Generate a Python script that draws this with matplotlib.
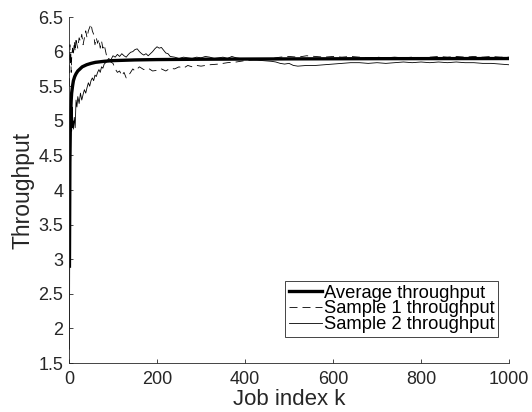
import matplotlib
matplotlib.use("Agg")
import matplotlib.pyplot as plt
from matplotlib.ticker import FuncFormatter

plt.rcParams['font.family'] = ['Liberation Sans', 'DejaVu Sans']

# average throughput over job index
avgK = [1, 2, 3, 4, 5, 6, 8, 10, 13, 16, 20, 25, 30, 40, 50, 60, 80, 100,
        150, 200, 300, 500, 700, 1000]
avgVal = [2.9, 4.4, 4.9, 5.15, 5.3, 5.4, 5.5, 5.58, 5.64, 5.68, 5.72, 5.75,
          5.78, 5.81, 5.83, 5.845, 5.86, 5.87, 5.88, 5.885, 5.89, 5.895,
          5.898, 5.9]

# sample 1 (dashed)
s1K = [1, 2, 3, 4, 5, 6, 8, 10, 12, 14, 16, 18, 20, 23, 26, 29, 32, 35, 38,
       41, 44, 47, 50, 53, 56, 59, 62, 65, 68, 71, 74, 77, 80, 85, 90, 95,
       100, 105, 110, 115, 120, 125, 130, 135, 140, 145, 150, 160, 170, 180,
       190, 200, 210, 220, 230, 240, 250, 260, 270, 280, 290, 300, 320, 340,
       360, 380, 400, 420, 440, 460, 480, 500, 520, 540, 560, 580, 600, 620,
       640, 660, 680, 700, 720, 740, 760, 780, 800, 820, 840, 860, 880, 900,
       920, 940, 960, 980, 1000]
s1Val = [5.5, 6.1, 5.8, 6.0, 5.7, 5.9, 6.05, 5.95, 6.15, 6.0, 6.2, 6.1, 6.05,
         6.2, 6.15, 6.25, 6.1, 6.2, 6.3, 6.2, 6.3, 6.35, 6.4, 6.3, 6.25, 6.1,
         6.2, 6.12, 6.18, 6.05, 6.15, 6.05, 6.1, 5.95, 5.88, 5.85, 5.83,
         5.75, 5.7, 5.72, 5.65, 5.7, 5.62, 5.65, 5.7, 5.75, 5.72, 5.78, 5.74,
         5.76, 5.72, 5.73, 5.75, 5.72, 5.76, 5.75, 5.78, 5.76, 5.8, 5.78,
         5.8, 5.79, 5.81, 5.82, 5.84, 5.85, 5.87, 5.88, 5.89, 5.9, 5.92,
         5.93, 5.92, 5.94, 5.93, 5.92, 5.93, 5.92, 5.93, 5.92, 5.91, 5.92,
         5.91, 5.92, 5.91, 5.92, 5.91, 5.92, 5.93, 5.92, 5.93, 5.92, 5.93,
         5.92, 5.93, 5.92, 5.92]

# sample 2 (solid thin)
s2K = [1, 2, 3, 4, 5, 6, 7, 8, 9, 10, 12, 14, 16, 18, 20, 23, 26, 29, 32,
       35, 38, 41, 44, 47, 50, 53, 56, 59, 62, 65, 68, 71, 74, 77, 80, 85,
       90, 95, 100, 105, 110, 115, 120, 125, 130, 135, 140, 145, 150, 155,
       160, 165, 170, 175, 180, 185, 190, 195, 200, 205, 210, 215, 220, 225,
       230, 240, 250, 260, 270, 280, 290, 300, 310, 320, 330, 340, 350, 360,
       370, 380, 390, 400, 420, 440, 460, 470, 480, 490, 500, 510, 520, 540,
       560, 580, 600, 620, 640, 660, 680, 700, 720, 740, 760, 780, 800, 820,
       840, 860, 880, 900, 920, 940, 960, 980, 1000]
s2Val = [1.7, 4.0, 5.3, 4.9, 5.1, 4.85, 5.2, 4.9, 5.0, 4.88, 5.05, 4.9, 5.3,
         5.2, 5.35, 5.25, 5.4, 5.3, 5.38, 5.45, 5.4, 5.48, 5.55, 5.5, 5.58,
         5.62, 5.58, 5.66, 5.64, 5.7, 5.74, 5.7, 5.78, 5.76, 5.82, 5.85,
         5.9, 5.88, 5.94, 5.92, 5.96, 5.93, 5.97, 5.94, 5.92, 5.96, 5.99,
         6.0, 6.03, 6.04, 6.0, 5.97, 5.95, 5.97, 5.94, 5.97, 6.0, 6.04, 6.07,
         6.05, 6.06, 6.02, 5.98, 5.97, 5.93, 5.92, 5.9, 5.92, 5.91, 5.9,
         5.92, 5.91, 5.93, 5.92, 5.9, 5.91, 5.92, 5.9, 5.93, 5.91, 5.9, 5.89,
         5.88, 5.87, 5.86, 5.85, 5.83, 5.82, 5.83, 5.8, 5.79, 5.8, 5.8, 5.81,
         5.82, 5.83, 5.84, 5.84, 5.83, 5.84, 5.83, 5.84, 5.85, 5.84, 5.85,
         5.84, 5.85, 5.84, 5.85, 5.84, 5.84, 5.83, 5.83, 5.82, 5.81]

fig = plt.figure(figsize=(5.32, 4.12), dpi=100)
ax = fig.add_axes([0.1297, 0.1189, 0.8271, 0.8398])

ax.plot(avgK, avgVal, color='black', linewidth=2.4, label='Average throughput')
ax.plot(s1K, s1Val, color='black', linewidth=0.6, linestyle=(0, (9.6, 6)),
        label='Sample 1 throughput')
ax.plot(s2K, s2Val, color='black', linewidth=0.6, label='Sample 2 throughput')

ax.set_xlim(0, 1000)
ax.set_ylim(1.5, 6.5)
ax.set_xticks([0, 200, 400, 600, 800, 1000])
ax.set_yticks([1.5, 2, 2.5, 3, 3.5, 4, 4.5, 5, 5.5, 6, 6.5])
ax.yaxis.set_major_formatter(FuncFormatter(lambda v, p: '%g' % v))
ax.tick_params(direction='in', length=3, width=0.6, labelsize=13,
               colors='#262626')
ax.tick_params(axis='x', pad=5.5)
ax.tick_params(axis='y', pad=4)
for s in ['top', 'right']:
    ax.spines[s].set_visible(False)
for s in ['left', 'bottom']:
    ax.spines[s].set_linewidth(0.6)
    ax.spines[s].set_color('#262626')

ax.set_xlabel('Job index k', fontsize=16, labelpad=1, color='#262626')
ax.set_ylabel('Throughput', fontsize=16.5, labelpad=3, color='#262626')

leg = ax.legend(loc='lower right', bbox_to_anchor=(0.975, 0.075),
                borderaxespad=0, fontsize=13.2, fancybox=False,
                edgecolor='#262626', framealpha=1, borderpad=0.2,
                labelspacing=-0.06, handlelength=1.8, handletextpad=0.1)
leg.get_frame().set_linewidth(0.6)

fig.savefig('out.png', dpi=100)
